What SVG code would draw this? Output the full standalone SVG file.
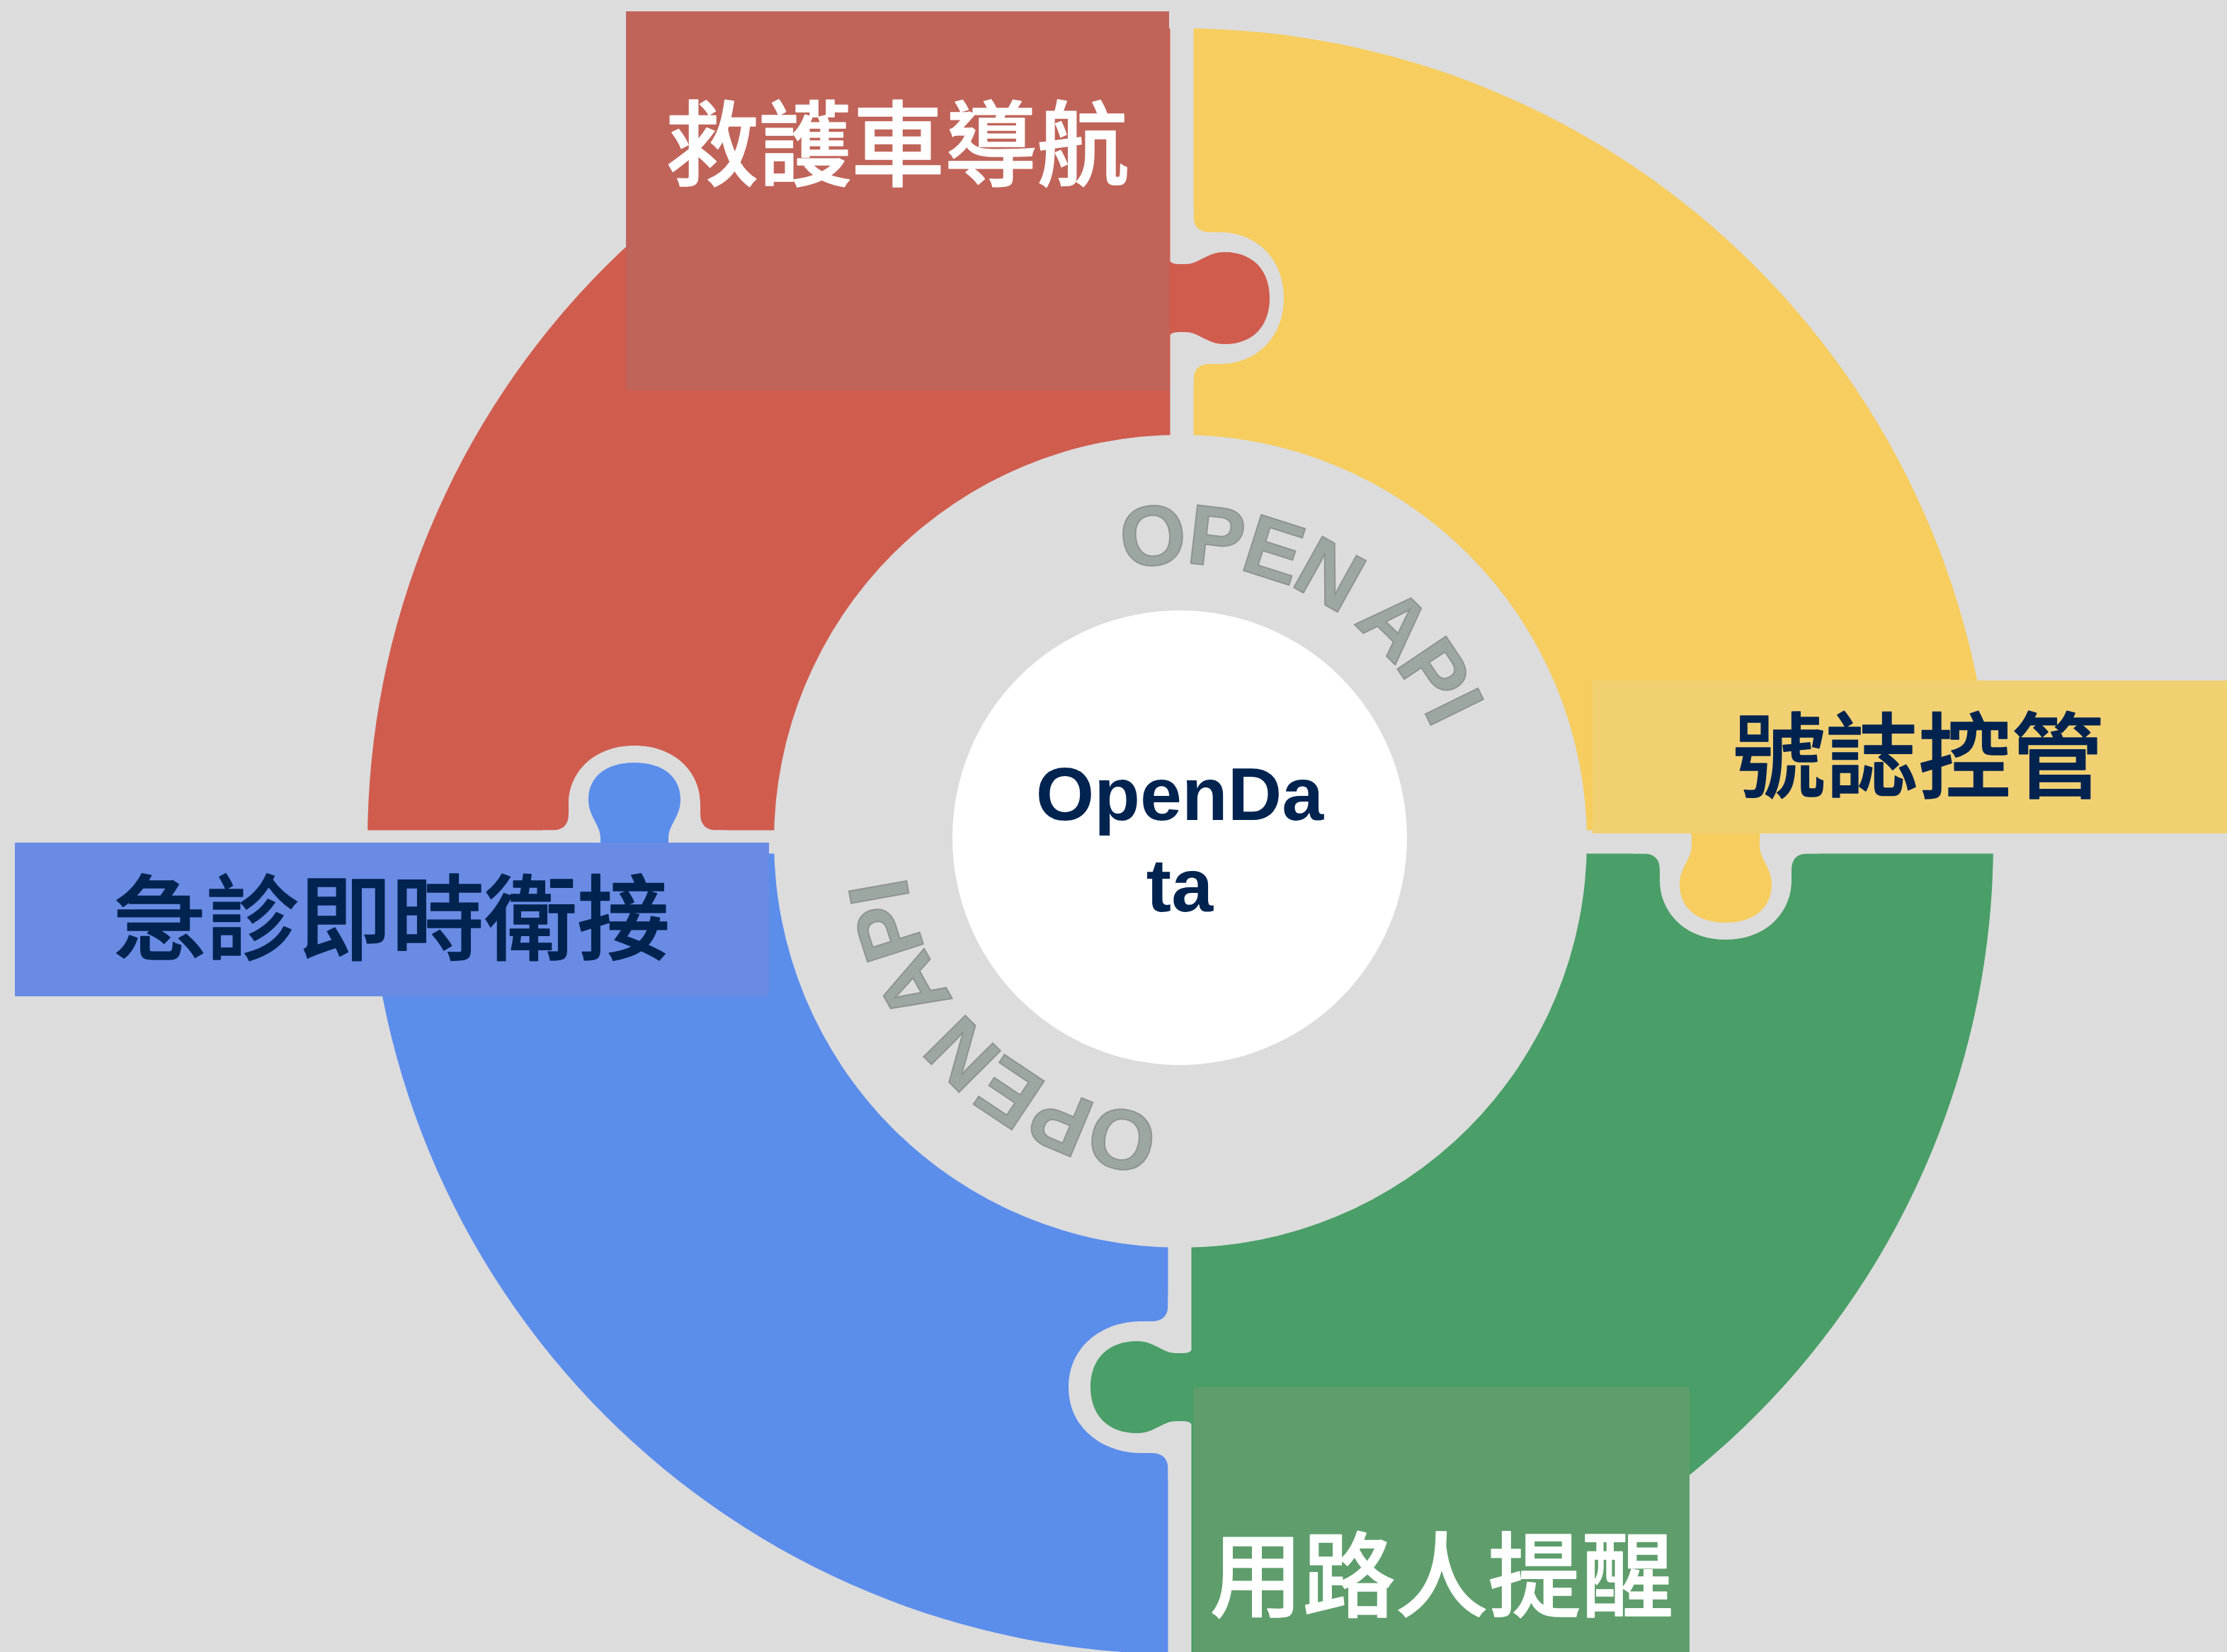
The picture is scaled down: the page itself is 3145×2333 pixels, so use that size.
<svg xmlns="http://www.w3.org/2000/svg" width="3145" height="2333" viewBox="0 0 3145 2333">
<style>
.gap{fill:#DCDCDD}
.cjk{font-family:"Liberation Sans","Noto Sans CJK TC",sans-serif;font-weight:500;font-size:131px;text-anchor:middle;stroke-width:1.5;stroke-linejoin:round}
.w{fill:#FFFFFF;stroke:#FFFFFF}
.n{fill:#002350;stroke:#002350}
.api{font-family:"Liberation Sans",sans-serif;font-weight:700;font-size:120px;fill:#9DA7A2;stroke:#8E9491;stroke-width:2;letter-spacing:-5px}
.ctr{font-family:"Liberation Sans",sans-serif;font-weight:700;font-size:106px;fill:#002350;text-anchor:middle}
</style>
<defs>
<path id="arc" d="M1337.1,976.5 A390,390 0 0 1 2026.3,1335.3"/>
</defs>
<rect width="3145" height="2333" fill="#DCDCDD"/>
<g id="piece-red"><path d="M519,1188 A1148,1148 0 0 1 1667,40 L1667,614 A574,574 0 0 0 1093,1188 Z" fill="#D05C4E"/></g>
<g id="piece-yellow"><path d="M1667,40 A1148,1148 0 0 1 2815,1188 L2241,1188 A574,574 0 0 0 1667,614 Z" fill="#F6CD5E"/></g>
<g id="piece-green"><path d="M2815,1188 A1148,1148 0 0 1 1667,2336 L1667,1762 A574,574 0 0 0 2241,1188 Z" fill="#4A9E67"/></g>
<g id="piece-blue"><path d="M1667,2336 A1148,1148 0 0 1 519,1188 L1093,1188 A574,574 0 0 0 1667,1762 Z" fill="#5B8DEB"/></g>
<g id="connectors">
<rect class="gap" x="1652.5" y="20" width="33" height="640"/>
<rect class="gap" x="1649.5" y="1720" width="33" height="620"/>
<rect class="gap" x="500" y="1172.5" width="610" height="33"/>
<rect class="gap" x="2225" y="1172.5" width="610" height="33"/>
<path class="gap" transform="translate(1669,421) rotate(-90)" d="M-130,0 V16.5 H-116 Q-93,16.5 -93,40 V55 C-93,100 -60,144 0,144 C60,144 93,100 93,55 V40 Q93,16.5 116,16.5 H130 V0 Z"/>
<path class="gap" transform="translate(896,1189) rotate(180)" d="M-130,0 V16.5 H-116 Q-93,16.5 -93,40 V55 C-93,95.5 -60,136 0,136 C60,136 93,95.5 93,55 V40 Q93,16.5 116,16.5 H130 V0 Z"/>
<path class="gap" transform="translate(2437,1189)" d="M-130,0 V16.5 H-116 Q-93,16.5 -93,40 V55 C-93,96.5 -60,138 0,138 C60,138 93,96.5 93,55 V40 Q93,16.5 116,16.5 H130 V0 Z"/>
<path class="gap" transform="translate(1666,1959) rotate(90)" d="M-130,0 V16.5 H-116 Q-93,16.5 -93,40 V55 C-93,106 -60,157 0,157 C60,157 93,106 93,55 V40 Q93,16.5 116,16.5 H130 V0 Z"/>
</g>
<g id="tabs">
<path fill="#D05C4E" transform="translate(1669,421) rotate(-90)" d="M-62,-20 C-52,-20 -48,-14 -48,-5 V5 C-48,25 -65,35 -65,60 C-65,100 -40,124 0,124 C40,124 65,100 65,60 C65,35 48,25 48,5 V-5 C48,-14 52,-20 62,-20 Z"/>
<path fill="#5B8DEB" transform="translate(896,1189) rotate(180)" d="M-62,-20 C-52,-20 -48,-14 -48,-5 V5 C-48,25 -65,35 -65,60 C-65,92 -40,112 0,112 C40,112 65,92 65,60 C65,35 48,25 48,5 V-5 C48,-14 52,-20 62,-20 Z"/>
<path fill="#F6CD5E" transform="translate(2437,1189)" d="M-62,-20 C-52,-20 -48,-14 -48,-5 V5 C-48,25 -65,35 -65,60 C-65,93 -40,114 0,114 C40,114 65,93 65,60 C65,35 48,25 48,5 V-5 C48,-14 52,-20 62,-20 Z"/>
<path fill="#4A9E67" transform="translate(1666,1959) rotate(90)" d="M-62,-20 C-52,-20 -48,-14 -48,-5 V5 C-48,25 -65,35 -65,60 C-65,101 -40,126 0,126 C40,126 65,101 65,60 C65,35 48,25 48,5 V-5 C48,-14 52,-20 62,-20 Z"/>
</g>
<g id="center">
<circle cx="1666" cy="1183" r="321" fill="#FFFFFF"/>
<text class="ctr" x="1666" y="1158">OpenDa</text>
<text class="ctr" x="1666" y="1287">ta</text>
</g>
<g id="api-top" transform="rotate(-0.5 1666 1186)"><text class="api"><textPath href="#arc" startOffset="50%" text-anchor="middle">OPEN API</textPath></text></g>
<g id="api-bottom" transform="rotate(195.5 1666 1186)"><text class="api"><textPath href="#arc" startOffset="50%" text-anchor="middle">OPEN API</textPath></text></g>
<g id="label-red"><rect x="884" y="16" width="767" height="535" fill="#C0645A"/><text class="cjk w" x="1268" y="252">救護車導航</text></g>
<g id="label-yellow"><rect x="2249" y="961" width="896" height="216" fill="#F1D072"/><text class="cjk n" x="2709" y="1116">號誌控管</text></g>
<g id="label-blue"><rect x="21" y="1190" width="1065" height="217" fill="#698BE4"/><text class="cjk n" x="553" y="1345">急診即時衛接</text></g>
<g id="label-green"><rect x="1686" y="1959" width="700" height="374" fill="#5F9E6C"/><text class="cjk w" x="2036" y="2273">用路人提醒</text></g>
</svg>
